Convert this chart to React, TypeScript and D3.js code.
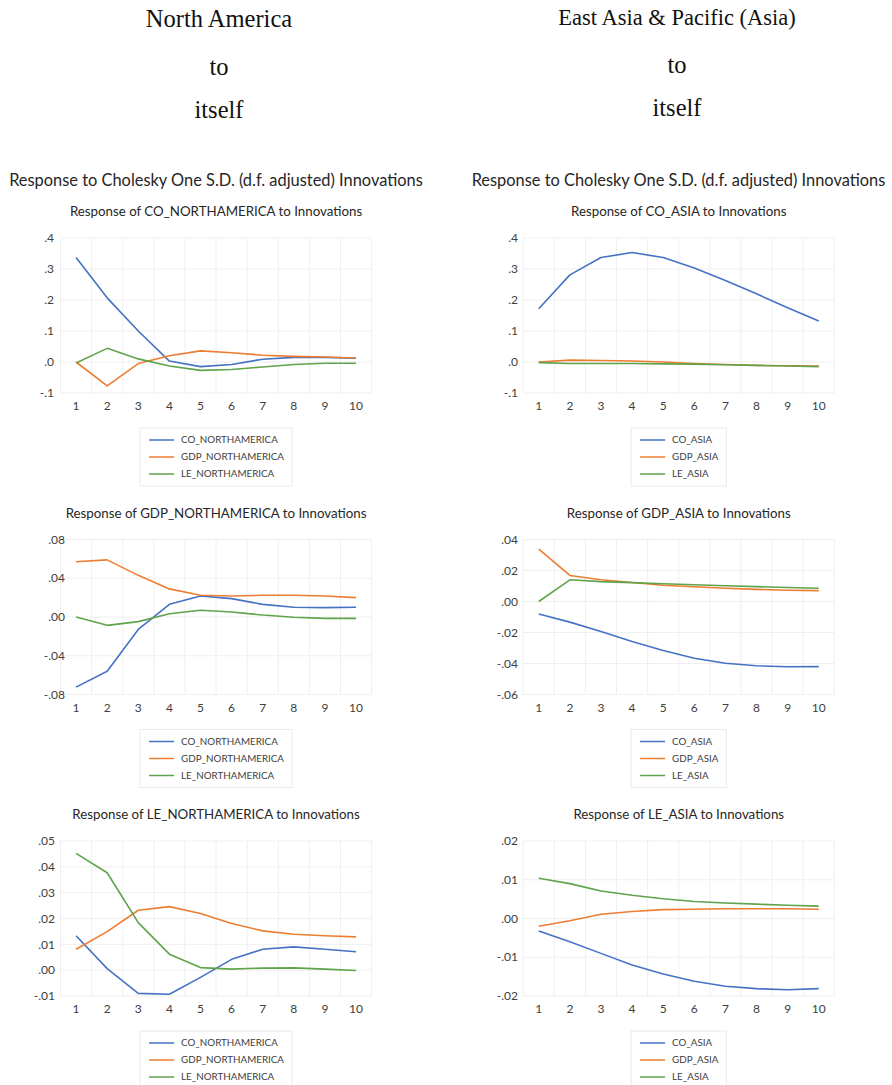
import React from "react";
import * as d3 from "d3";

// ---------- data ----------
const periods = [1, 2, 3, 4, 5, 6, 7, 8, 9, 10];

const naSeries = ["CO_NORTHAMERICA", "GDP_NORTHAMERICA", "LE_NORTHAMERICA"];
const asSeries = ["CO_ASIA", "GDP_ASIA", "LE_ASIA"];

// Response of CO_NORTHAMERICA
const naCoCo = [0.337, 0.207, 0.1, 0.003, -0.015, -0.008, 0.009, 0.015, 0.015, 0.012];
const naCoGdp = [0.0, -0.077, -0.005, 0.02, 0.036, 0.03, 0.022, 0.018, 0.016, 0.013];
const naCoLe = [-0.003, 0.044, 0.01, -0.013, -0.027, -0.024, -0.016, -0.008, -0.004, -0.004];

// Response of GDP_NORTHAMERICA
const naGdpCo = [-0.0724, -0.056, -0.0128, 0.0131, 0.0217, 0.019, 0.013, 0.01, 0.0097, 0.01];
const naGdpGdp = [0.057, 0.059, 0.043, 0.029, 0.0224, 0.0217, 0.0224, 0.0224, 0.0217, 0.02];
const naGdpLe = [0.0, -0.0086, -0.0048, 0.0034, 0.0069, 0.0052, 0.002, -0.0003, -0.0014, -0.0014];

// Response of LE_NORTHAMERICA
const naLeCo = [0.0133, 0.0006, -0.009, -0.0093, -0.0028, 0.0042, 0.0081, 0.009, 0.0081, 0.0071];
const naLeGdp = [0.0081, 0.0149, 0.0232, 0.0246, 0.0219, 0.0181, 0.0152, 0.0139, 0.0133, 0.0129];
const naLeLe = [0.0452, 0.0377, 0.0184, 0.0062, 0.001, 0.0004, 0.0008, 0.0009, 0.0004, -0.0001];

// Response of CO_ASIA
const asCoCo = [0.172, 0.281, 0.337, 0.353, 0.337, 0.303, 0.263, 0.22, 0.175, 0.132];
const asCoGdp = [0.0, 0.006, 0.005, 0.003, 0.0, -0.005, -0.008, -0.011, -0.012, -0.013];
const asCoLe = [-0.002, -0.005, -0.005, -0.005, -0.006, -0.007, -0.009, -0.011, -0.013, -0.015];

// Response of GDP_ASIA
const asGdpCo = [-0.008, -0.0133, -0.0194, -0.0258, -0.0316, -0.0366, -0.0398, -0.0415, -0.0421, -0.042];
const asGdpGdp = [0.0338, 0.0168, 0.014, 0.0123, 0.0105, 0.0095, 0.0085, 0.0078, 0.0073, 0.007];
const asGdpLe = [0.0, 0.014, 0.0128, 0.0122, 0.0115, 0.0108, 0.0102, 0.0096, 0.009, 0.0085];

// Response of LE_ASIA
const asLeCo = [-0.0032, -0.006, -0.009, -0.012, -0.0143, -0.0162, -0.0175, -0.0181, -0.0184, -0.0181];
const asLeGdp = [-0.002, -0.0006, 0.0011, 0.0018, 0.0023, 0.0024, 0.0025, 0.0025, 0.0025, 0.0024];
const asLeLe = [0.0104, 0.009, 0.0071, 0.006, 0.0051, 0.0044, 0.004, 0.0037, 0.0034, 0.0032];

// tick values
const ticksCoNa = [-0.1, 0.0, 0.1, 0.2, 0.3, 0.4];
const ticksGdpNa = [-0.08, -0.04, 0.0, 0.04, 0.08];
const ticksLeNa = [-0.01, 0.0, 0.01, 0.02, 0.03, 0.04, 0.05];
const ticksCoAs = [-0.1, 0.0, 0.1, 0.2, 0.3, 0.4];
const ticksGdpAs = [-0.06, -0.04, -0.02, 0.0, 0.02, 0.04];
const ticksLeAs = [-0.02, -0.01, 0.0, 0.01, 0.02];

const headerLeft = ["North America", "to", "itself"];
const headerRight = ["East Asia & Pacific (Asia)", "to", "itself"];
const mainTitle = "Response to Cholesky One S.D. (d.f. adjusted) Innovations";

const colors = ["#4472C4", "#ED7D31", "#5FA34B"];

// ---------- layout ----------
const W = 892;
const H = 1085;
const colRange: [number, number][] = [
  [60.5, 371.6],
  [523.2, 834.3],
];
const rowTop = [238, 539.5, 841];
const plotH = 155;
const sansFont = "Lato, 'Open Sans', sans-serif";

function fmtTick(v: number, dec: number) {
  const s = v.toFixed(dec);
  return s.replace(/^(-?)0\./, "$1.");
}

let measureCtx: CanvasRenderingContext2D | null = null;
function textWidth(t: string, font: string) {
  if (!measureCtx) {
    const c = document.createElement("canvas");
    measureCtx = c.getContext("2d");
  }
  if (!measureCtx) return t.length * 6;
  measureCtx.font = font;
  return measureCtx.measureText(t).width;
}

type Panel = {
  col: number;
  row: number;
  title: string;
  series: string[];
  values: number[][];
  ticks: number[];
  dec: number;
  labelRight: number;
};

const panels: Panel[] = [
  { col: 0, row: 0, title: "Response of CO_NORTHAMERICA to Innovations", series: naSeries, values: [naCoCo, naCoGdp, naCoLe], ticks: ticksCoNa, dec: 1, labelRight: 54 },
  { col: 0, row: 1, title: "Response of GDP_NORTHAMERICA to Innovations", series: naSeries, values: [naGdpCo, naGdpGdp, naGdpLe], ticks: ticksGdpNa, dec: 2, labelRight: 65 },
  { col: 0, row: 2, title: "Response of LE_NORTHAMERICA to Innovations", series: naSeries, values: [naLeCo, naLeGdp, naLeLe], ticks: ticksLeNa, dec: 2, labelRight: 55 },
  { col: 1, row: 0, title: "Response of CO_ASIA to Innovations", series: asSeries, values: [asCoCo, asCoGdp, asCoLe], ticks: ticksCoAs, dec: 1, labelRight: 518 },
  { col: 1, row: 1, title: "Response of GDP_ASIA to Innovations", series: asSeries, values: [asGdpCo, asGdpGdp, asGdpLe], ticks: ticksGdpAs, dec: 2, labelRight: 518 },
  { col: 1, row: 2, title: "Response of LE_ASIA to Innovations", series: asSeries, values: [asLeCo, asLeGdp, asLeLe], ticks: ticksLeAs, dec: 2, labelRight: 518 },
];

function PanelView({ p }: { p: Panel }) {
  const [x0, x1] = colRange[p.col];
  const top = rowTop[p.row];
  const x = d3.scaleBand<number>().domain(periods).range([x0, x1]);
  const cx = (d: number) => (x(d) as number) + x.bandwidth() / 2;
  const y = d3
    .scaleLinear()
    .domain([p.ticks[0], p.ticks[p.ticks.length - 1]])
    .range([top + plotH, top]);
  const line = d3
    .line<number>()
    .x((_, i) => cx(periods[i]))
    .y((v) => y(v));
  const center = (x0 + x1) / 2;
  const edges = periods.map((d) => x(d) as number).concat([x1]);

  const legendFont = `9.8px ${sansFont}`;
  const tw = Math.max(...p.series.map((s) => textWidth(s, legendFont)));
  const boxW = 9 + 25 + 7 + tw + 8;
  const boxX = center - boxW / 2;
  const boxY = top + 190;

  return (
    <g>
      <text x={center} y={top - 22} textAnchor="middle" fontFamily={sansFont} fontSize={13.3} fill="#262626">
        {p.title}
      </text>
      {edges.map((e, i) => (
        <line key={"v" + i} x1={e} x2={e} y1={top} y2={top + plotH} stroke="#efefef" strokeWidth={1} />
      ))}
      {p.ticks.map((t, i) => (
        <line key={"h" + i} x1={x0} x2={x1} y1={y(t)} y2={y(t)} stroke="#efefef" strokeWidth={1} />
      ))}
      {p.ticks.map((t, i) => (
        <text key={"yt" + i} x={p.labelRight} y={y(t)} dy="0.35em" textAnchor="end" fontFamily={sansFont} fontSize={12} fill="#404040">
          {fmtTick(t, p.dec)}
        </text>
      ))}
      {periods.map((d) => (
        <text key={"xt" + d} x={cx(d)} y={top + 168} dy="0.35em" textAnchor="middle" fontFamily={sansFont} fontSize={12} fill="#404040">
          {d}
        </text>
      ))}
      {p.values.map((vals, i) => (
        <path key={"l" + i} d={line(vals) || ""} fill="none" stroke={colors[i]} strokeWidth={1.6} strokeLinejoin="round" />
      ))}
      <rect x={boxX} y={boxY} width={boxW} height={58} fill="#fff" stroke="#eaeaea" strokeWidth={1} />
      {p.series.map((s, i) => {
        const ly = top + 202 + i * 17;
        return (
          <g key={"lg" + i}>
            <line x1={boxX + 9} x2={boxX + 34} y1={ly} y2={ly} stroke={colors[i]} strokeWidth={1.5} />
            <text x={boxX + 41} y={ly} dy="0.35em" fontFamily={sansFont} fontSize={9.8} fill="#404040">
              {s}
            </text>
          </g>
        );
      })}
    </g>
  );
}

export default function App() {
  const serif = "'Liberation Serif', 'Times New Roman', serif";
  const headerY = [27, 75, 118];
  return (
    <svg width={W} height={H} style={{ position: "absolute", left: 0, top: 0, background: "#fff" }}>
      <rect x={0} y={0} width={W} height={H} fill="#fff" />
      {headerLeft.map((t, i) => (
        <text key={"hl" + i} x={219} y={headerY[i]} textAnchor="middle" fontFamily={serif} fontSize={24.5} fill="#111">
          {t}
        </text>
      ))}
      {headerRight.map((t, i) => (
        <text key={"hr" + i} x={677} y={headerY[i] - 2} textAnchor="middle" fontFamily={serif} fontSize={i === 0 ? 22.5 : 24.5} fill="#111">
          {t}
        </text>
      ))}
      <text x={216} y={186} textAnchor="middle" fontFamily={sansFont} fontSize={16.4} fill="#262626">
        {mainTitle}
      </text>
      <text x={678.5} y={186} textAnchor="middle" fontFamily={sansFont} fontSize={16.4} fill="#262626">
        {mainTitle}
      </text>
      {panels.map((p, i) => (
        <PanelView key={i} p={p} />
      ))}
    </svg>
  );
}
